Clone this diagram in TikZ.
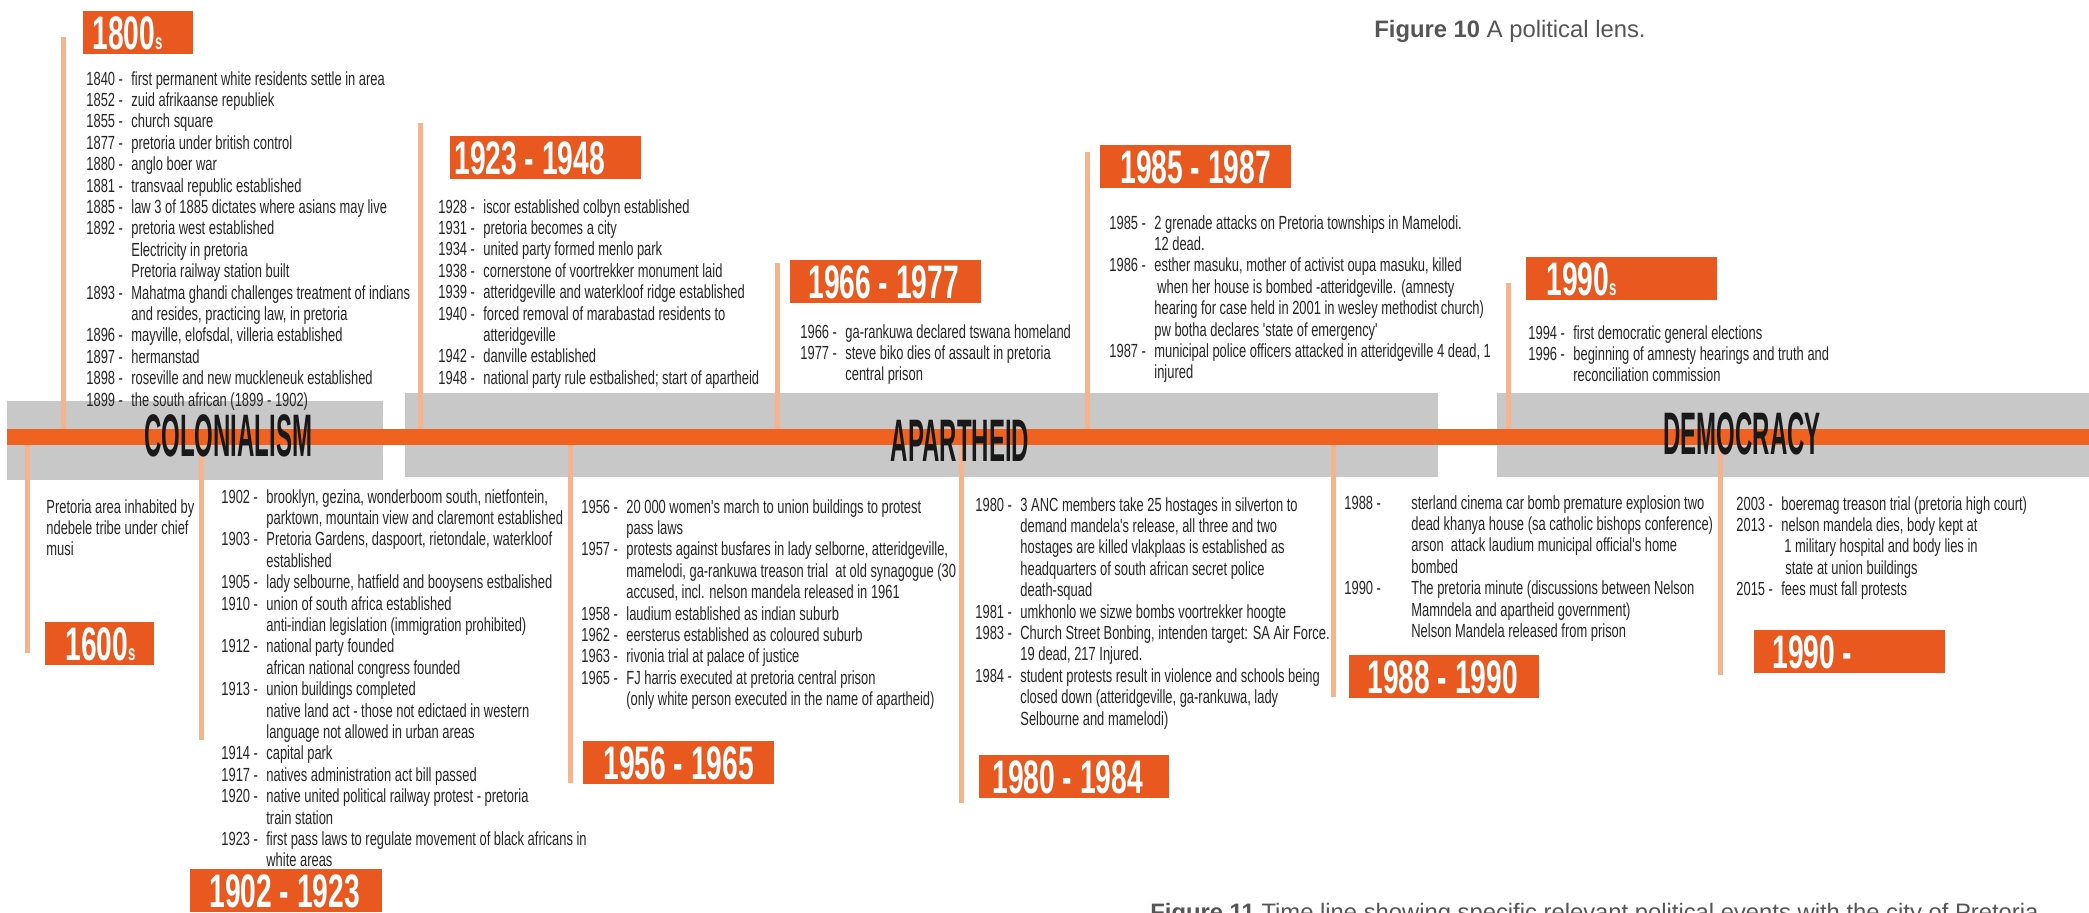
\documentclass[tikz,border=0pt]{standalone}
\usepackage{fontspec}
\setmainfont{Liberation Sans}
\newfontfamily\evtfont[FakeStretch=0.68]{Liberation Sans}
\newfontfamily\headfont[FakeStretch=0.6]{Liberation Sans}
\newfontfamily\erafont[FakeStretch=0.40]{Liberation Sans}
\usetikzlibrary{calc}
\definecolor{tlorange}{RGB}{240,98,32}
\definecolor{boxorange}{RGB}{233,88,30}
\definecolor{peach}{RGB}{246,180,142}
\definecolor{bandgray}{RGB}{200,200,200}
\definecolor{capgray}{RGB}{85,85,85}
\newcommand{\evyr}[1]{\makebox[22.5pt][l]{#1 -}}
\newcommand{\evyrw}[1]{\makebox[33.5pt][l]{#1 -}}
\newcommand{\evct}{\hspace*{22.5pt}}
\newcommand{\evctw}{\hspace*{33.5pt}}
\newcommand{\smalls}{{\fontsize{11}{11}\selectfont s}}
\begin{document}
\begin{tikzpicture}[x=0.5pt,y=-0.5pt,
  evt/.style={font=\evtfont\fontsize{9.5}{10.7}\selectfont, text=black!85, inner sep=0pt, anchor=base west},
  ybox/.style={fill=boxorange, inner sep=0pt, anchor=north west, minimum height=21.5pt},
  ytext/.style={font=\headfont\bfseries\fontsize{23.5}{24}\selectfont, text=white, inner sep=0pt, anchor=base west},
  era/.style={font=\erafont\bfseries\fontsize{30}{30}\selectfont, text=black!90, inner sep=0pt},
  vline/.style={draw=peach, line width=2.5pt},
  figcap/.style={font=\fontsize{11.9}{12.5}\selectfont, text=capgray, inner sep=0pt, anchor=base west}]

\useasboundingbox (0,0) rectangle (2089,912);
\fill[white] (0,0) rectangle (2089,912);

% era bands
\fill[bandgray] (7,401) rectangle (383,480);
\fill[bandgray] (405,393) rectangle (1438,477);
\fill[bandgray] (1497,393) rectangle (2089,477);

% vertical line end points
\coordinate (a1800) at (63,37);   \coordinate (z1800) at (63,437);
\coordinate (a1923) at (420,123); \coordinate (z1923) at (420,437);
\coordinate (a1966) at (777,263); \coordinate (z1966) at (777,437);
\coordinate (a1985) at (1087,152);\coordinate (z1985) at (1087,437);
\coordinate (a1990) at (1508,283);\coordinate (z1990) at (1508,437);
\coordinate (a1600) at (27,437);  \coordinate (z1600) at (27,653);
\coordinate (a1902) at (201,437); \coordinate (z1902) at (201,740);
\coordinate (a1956) at (570,437); \coordinate (z1956) at (570,783);
\coordinate (a1980) at (961,437); \coordinate (z1980) at (961,803);
\coordinate (a1988) at (1333,437);\coordinate (z1988) at (1333,697);
\coordinate (a2003) at (1720,437);\coordinate (z2003) at (1720,675);
\foreach \n in {1800,1923,1966,1985,1990,1600,1902,1956,1980,1988,2003}
  \draw[vline] (a\n) -- (z\n);

% main time line
\coordinate (tlA) at (7,437); \coordinate (tlB) at (2089,437);
\draw[tlorange, line width=8pt] (tlA) -- (tlB);

% era labels
\node[era] (colon) at (228,436) {COLONIALISM};
\node[era] (apart) at (960,441) {APARTHEID};
\node[era] (democ) at (1742,434) {DEMOCRACY};

% year boxes
\node[ybox, minimum width=55pt] (b1800) at (83,11) {};
\node[ytext] (t1800) at ($(b1800.south west)+(9,-5)$) {1800\smalls};
\node[ybox, minimum width=95.5pt] (b1923) at (450,136) {};
\node[ytext] (t1923) at ($(b1923.south west)+(4,-5)$) {1923 - 1948};
\node[ybox, minimum width=95.5pt] (b1966) at (790,260) {};
\node[ytext] (t1966) at ($(b1966.south west)+(18,-5)$) {1966 - 1977};
\node[ybox, minimum width=95.5pt] (b1985) at (1100,145) {};
\node[ytext] (t1985) at ($(b1985.south west)+(20,-5)$) {1985 - 1987};
\node[ybox, minimum width=95.5pt] (b1990s) at (1526,257) {};
\node[ytext] (t1990s) at ($(b1990s.south west)+(20,-5)$) {1990\smalls};
\node[ybox, minimum width=54.5pt] (b1600) at (45,622) {};
\node[ytext] (t1600) at ($(b1600.south west)+(20,-5)$) {1600\smalls};
\node[ybox, minimum width=96pt] (b1902) at (190,869) {};
\node[ytext] (t1902) at ($(b1902.south west)+(19,-5)$) {1902 - 1923};
\node[ybox, minimum width=95.5pt] (b1956) at (583,741) {};
\node[ytext] (t1956) at ($(b1956.south west)+(20,-5)$) {1956 - 1965};
\node[ybox, minimum width=95pt] (b1980) at (979,755) {};
\node[ytext] (t1980) at ($(b1980.south west)+(13,-5)$) {1980 - 1984};
\node[ybox, minimum width=95pt] (b1988) at (1349,655) {};
\node[ytext] (t1988) at ($(b1988.south west)+(18,-5)$) {1988 - 1990};
\node[ybox, minimum width=95.5pt] (b1990) at (1754,630) {};
\node[ytext] (t1990) at ($(b1990.south west)+(18,-5)$) {1990 -};

% event lists
\node[evt] (e1800) at (86,85) {\begin{tabular}[t]{@{}l@{}}
\evyr{1840}first permanent white residents settle in area\\
\evyr{1852}zuid afrikaanse republiek\\
\evyr{1855}church square\\
\evyr{1877}pretoria under british control\\
\evyr{1880}anglo boer war\\
\evyr{1881}transvaal republic established\\
\evyr{1885}law 3 of 1885 dictates where asians may live\\
\evyr{1892}pretoria west established\\
\evct Electricity in pretoria\\
\evct Pretoria railway station built\\
\evyr{1893}Mahatma ghandi challenges treatment of indians\\
\evct and resides, practicing law, in pretoria\\
\evyr{1896}mayville, elofsdal, villeria established\\
\evyr{1897}hermanstad\\
\evyr{1898}roseville and new muckleneuk established\\
\evyr{1899}the south african (1899 - 1902)
\end{tabular}};

\node[evt] (e1923) at (438,213) {\begin{tabular}[t]{@{}l@{}}
\evyr{1928}iscor established colbyn established\\
\evyr{1931}pretoria becomes a city\\
\evyr{1934}united party formed menlo park\\
\evyr{1938}cornerstone of voortrekker monument laid\\
\evyr{1939}atteridgeville and waterkloof ridge established\\
\evyr{1940}forced removal of marabastad residents to\\
\evct atteridgeville\\
\evyr{1942}danville established\\
\evyr{1948}national party rule estbalished; start of apartheid
\end{tabular}};

\node[evt] (e1966) at (800,338) {\begin{tabular}[t]{@{}l@{}}
\evyr{1966}ga-rankuwa declared tswana homeland\\
\evyr{1977}steve biko dies of assault in pretoria\\
\evct central prison
\end{tabular}};

\node[evt] (e1985) at (1109,229) {\begin{tabular}[t]{@{}l@{}}
\evyr{1985}2 grenade attacks on Pretoria townships in Mamelodi.\\
\evct 12 dead.\\
\evyr{1986}esther masuku, mother of activist oupa masuku, killed\\
\evct\hspace*{1.5pt}when her house is bombed -atteridgeville. (amnesty\\
\evct hearing for case held in 2001 in wesley methodist church)\\
\evct pw botha declares 'state of emergency'\\
\evyr{1987}municipal police officers attacked in atteridgeville 4 dead, 1\\
\evct injured
\end{tabular}};

\node[evt] (e1990s) at (1528,339) {\begin{tabular}[t]{@{}l@{}}
\evyr{1994}first democratic general elections\\
\evyr{1996}beginning of amnesty hearings and truth and\\
\evct reconciliation commission
\end{tabular}};

\node[evt] (e1600) at (46,513) {\begin{tabular}[t]{@{}l@{}}
Pretoria area inhabited by\\
ndebele tribe under chief\\
musi
\end{tabular}};

\node[evt] (e1902) at (221,503) {\begin{tabular}[t]{@{}l@{}}
\evyr{1902}brooklyn, gezina, wonderboom south, nietfontein,\\
\evct parktown, mountain view and claremont established\\
\evyr{1903}Pretoria Gardens, daspoort, rietondale, waterkloof\\
\evct established\\
\evyr{1905}lady selbourne, hatfield and booysens estbalished\\
\evyr{1910}union of south africa established\\
\evct anti-indian legislation (immigration prohibited)\\
\evyr{1912}national party founded\\
\evct african national congress founded\\
\evyr{1913}union buildings completed\\
\evct native land act - those not edictaed in western\\
\evct language not allowed in urban areas\\
\evyr{1914}capital park\\
\evyr{1917}natives administration act bill passed\\
\evyr{1920}native united political railway protest - pretoria\\
\evct train station\\
\evyr{1923}first pass laws to regulate movement of black africans in\\
\evct white areas
\end{tabular}};

\node[evt] (e1956) at (581,513) {\begin{tabular}[t]{@{}l@{}}
\evyr{1956}20 000 women's march to union buildings to protest\\
\evct pass laws\\
\evyr{1957}protests against busfares in lady selborne, atteridgeville,\\
\evct mamelodi, ga-rankuwa treason trial\ \ at old synagogue (30\\
\evct accused, incl. nelson mandela released in 1961\\
\evyr{1958}laudium established as indian suburb\\
\evyr{1962}eersterus established as coloured suburb\\
\evyr{1963}rivonia trial at palace of justice\\
\evyr{1965}FJ harris executed at pretoria central prison\\
\evct (only white person executed in the name of apartheid)
\end{tabular}};

\node[evt] (e1980) at (975,511) {\begin{tabular}[t]{@{}l@{}}
\evyr{1980}3 ANC members take 25 hostages in silverton to\\
\evct demand mandela's release, all three and two\\
\evct hostages are killed vlakplaas is established as\\
\evct headquarters of south african secret police\\
\evct death-squad\\
\evyr{1981}umkhonlo we sizwe bombs voortrekker hoogte\\
\evyr{1983}Church Street Bonbing, intenden target: SA Air Force.\\
\evct 19 dead, 217 Injured.\\
\evyr{1984}student protests result in violence and schools being\\
\evct closed down (atteridgeville, ga-rankuwa, lady\\
\evct Selbourne and mamelodi)
\end{tabular}};

\node[evt] (e1988) at (1344,509) {\begin{tabular}[t]{@{}l@{}}
\evyrw{1988}sterland cinema car bomb premature explosion two\\
\evctw dead khanya house (sa catholic bishops conference)\\
\evctw arson\ \ attack laudium municipal official's home\\
\evctw bombed\\
\evyrw{1990}The pretoria minute (discussions between Nelson\\
\evctw Mamndela and apartheid government)\\
\evctw Nelson Mandela released from prison
\end{tabular}};

\node[evt] (e2003) at (1736,510) {\begin{tabular}[t]{@{}l@{}}
\evyr{2003}boeremag treason trial (pretoria high court)\\
\evyr{2013}nelson mandela dies, body kept at\\
\evct\hspace*{1.5pt}1 military hospital and body lies in\\
\evct\hspace*{2pt}state at union buildings\\
\evyr{2015}fees must fall protests
\end{tabular}};

% captions
\node[figcap] (cap10) at (1374,37) {\textbf{Figure 10} A political lens.};
\node[figcap] (cap11) at (1150,920) {\textbf{Figure 11} Time line showing specific relevant political events with the city of Pretoria};
\end{tikzpicture}
\end{document}
